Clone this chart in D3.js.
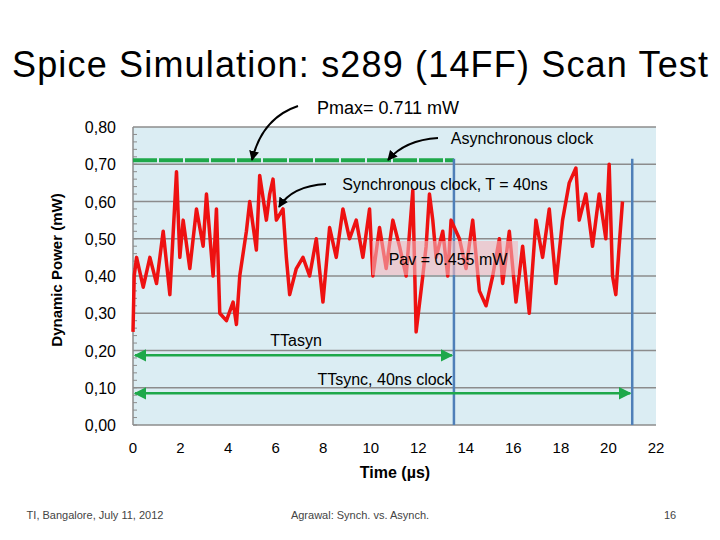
<!DOCTYPE html>
<html><head><meta charset="utf-8">
<script src="https://cdn.jsdelivr.net/npm/d3@7"></script>
<style>body{margin:0;background:#fff}text{font-family:"Liberation Sans",Arial,sans-serif}</style>
</head><body><div id="chart"></div>
<script>
// red trace: time (µs) / power (mW)
var times = [0,0.05,0.15,0.43,0.71,0.99,1.27,1.55,1.83,1.97,2.11,2.39,2.67,2.95,3.09,3.37,3.51,3.65,3.93,4.21,4.35,4.49,4.77,4.91,5.19,5.33,5.61,5.75,5.89,6.03,6.31,6.45,6.59,6.87,7.15,7.43,7.71,7.99,8.27,8.55,8.83,9.11,9.39,9.67,9.95,10.09,10.37,10.65,10.93,11.21,11.49,11.77,11.91,12.19,12.33,12.47,12.61,12.75,13.03,13.24,13.38,13.73,14.01,14.29,14.57,14.85,15.13,15.41,15.55,15.83,16.11,16.39,16.67,16.95,17.23,17.51,17.79,18.07,18.35,18.63,18.77,19.05,19.33,19.61,19.89,20.03,20.17,20.31,20.45,20.59];
var power = [0.25,0.40,0.45,0.37,0.45,0.38,0.52,0.35,0.68,0.45,0.55,0.42,0.58,0.48,0.62,0.40,0.58,0.30,0.28,0.33,0.27,0.40,0.52,0.60,0.47,0.67,0.55,0.62,0.66,0.55,0.58,0.45,0.35,0.42,0.45,0.40,0.50,0.33,0.53,0.45,0.58,0.50,0.55,0.45,0.58,0.40,0.53,0.42,0.55,0.48,0.40,0.63,0.25,0.40,0.48,0.62,0.55,0.45,0.52,0.40,0.55,0.50,0.42,0.55,0.36,0.32,0.40,0.50,0.38,0.52,0.33,0.48,0.30,0.55,0.45,0.58,0.38,0.55,0.65,0.69,0.55,0.62,0.48,0.62,0.50,0.70,0.40,0.35,0.48,0.60];
var yTicks = [0,0.1,0.2,0.3,0.4,0.5,0.6,0.7,0.8];
var xTicks = [0,2,4,6,8,10,12,14,16,18,20,22];
var pmax = 0.711, tAsyn = 13.5, tSync = 21.0;

var W = 720, H = 540;
var x = d3.scaleLinear().domain([0,22]).range([133,656]);
var y = d3.scaleLinear().domain([0,0.8]).range([425,127]);

var svg = d3.select("#chart").append("svg").attr("width",W).attr("height",H);
var defs = svg.append("defs");
function marker(id, col) {
    defs.append("marker").attr("id",id).attr("viewBox","0 0 10 10").attr("refX",9).attr("refY",5)
        .attr("markerWidth",5).attr("markerHeight",5).attr("orient","auto-start-reverse")
        .append("path").attr("d","M0,0L10,5L0,10z").attr("fill",col);
}
marker("ag","#1ea84a"); marker("ab","#000");

svg.append("text").attr("x",360).attr("y",77).attr("text-anchor","middle")
    .attr("font-size",36).attr("textLength",696).attr("font-family","Open Sans")
    .text("Spice Simulation: s289 (14FF) Scan Test");

svg.append("rect").attr("x",x(0)).attr("y",y(0.8)).attr("width",x(22)-x(0)).attr("height",y(0)-y(0.8)).attr("fill","#dbedf3");

svg.selectAll(".grid").data(yTicks.slice(1)).enter().append("line")
    .attr("x1",x(0)).attr("x2",x(22)).attr("y1",d=>y(d)).attr("y2",d=>y(d))
    .attr("stroke","#8c8c8c").attr("stroke-width",1.5);
svg.append("line").attr("x1",x(0)).attr("x2",x(0)).attr("y1",y(0.8)).attr("y2",y(0)).attr("stroke","#8c8c8c").attr("stroke-width",1.5);
svg.append("line").attr("x1",x(0)).attr("x2",x(22)).attr("y1",y(0)).attr("y2",y(0)).attr("stroke","#8c8c8c").attr("stroke-width",1.5);
svg.selectAll(".mt").data(d3.range(0,0.8,0.02)).enter().append("line")
    .attr("x1",x(0)).attr("x2",x(0)+4).attr("y1",d=>y(d)).attr("y2",d=>y(d)).attr("stroke","#8c8c8c");

svg.selectAll(".yl").data(yTicks).enter().append("text")
    .attr("x",116).attr("y",d=>y(d)+6).attr("text-anchor","end").attr("font-size",16)
    .text(d=>d.toFixed(2).replace(".",","));
svg.selectAll(".xl").data(xTicks).enter().append("text")
    .attr("x",d=>x(d)).attr("y",453).attr("text-anchor","middle").attr("font-size",15).text(d=>d);
svg.append("text").attr("x",395).attr("y",478).attr("text-anchor","middle").attr("font-size",16).attr("font-weight","bold").text("Time (µs)");
svg.append("text").attr("transform","translate(62,270) rotate(-90)").attr("text-anchor","middle").attr("font-size",15).attr("font-weight","bold").text("Dynamic Power (mW)");

// asynchronous constant and period markers
svg.append("line").attr("x1",x(0)).attr("x2",x(tAsyn)).attr("y1",y(pmax)).attr("y2",y(pmax))
    .attr("stroke","#1ea84a").attr("stroke-width",4).attr("stroke-dasharray","24,2");
[tAsyn,tSync].forEach(function(t){
    svg.append("line").attr("x1",x(t)).attr("x2",x(t)).attr("y1",y(0.715)).attr("y2",y(0))
        .attr("stroke","#4f7fb8").attr("stroke-width",2.5);
});

var line = d3.line().x((d,i)=>x(times[i])).y(d=>y(d));
svg.append("path").datum(power).attr("d",line).attr("fill","none").attr("stroke","#ee1111").attr("stroke-width",3.5).attr("stroke-linejoin","round");

// annotations
svg.append("rect").attr("x",372).attr("y",241).attr("width",146).attr("height",34).attr("fill","#f4b6bd").attr("opacity",0.6);
svg.append("text").attr("x",448).attr("y",265).attr("text-anchor","middle").attr("font-size",16).text("Pav = 0.455 mW");
svg.append("text").attr("x",388).attr("y",114).attr("text-anchor","middle").attr("font-size",18).text("Pmax= 0.711 mW");
svg.append("text").attr("x",522).attr("y",144).attr("text-anchor","middle").attr("font-size",16).text("Asynchronous  clock");
svg.append("text").attr("x",445).attr("y",190).attr("text-anchor","middle").attr("font-size",16).text("Synchronous clock, T = 40ns");
[["M298,106 Q262,118 252,160"],["M438,138 Q405,140 388,160"],["M326,184 Q292,186 279,207"]].forEach(function(p){
    svg.append("path").attr("d",p[0]).attr("fill","none").attr("stroke","#000").attr("stroke-width",2).attr("marker-end","url(#ab)");
});
svg.append("text").attr("x",296).attr("y",346).attr("text-anchor","middle").attr("font-size",16).text("TTasyn");
svg.append("text").attr("x",385).attr("y",385).attr("text-anchor","middle").attr("font-size",16).text("TTsync, 40ns clock");
[[tAsyn,0.187],[tSync,0.085]].forEach(function(a){
    svg.append("line").attr("x1",x(0)+2).attr("x2",x(a[0])-2).attr("y1",y(a[1])).attr("y2",y(a[1]))
        .attr("stroke","#1ea84a").attr("stroke-width",2.5).attr("marker-start","url(#ag)").attr("marker-end","url(#ag)");
});

svg.append("text").attr("x",95).attr("y",519).attr("text-anchor","middle").attr("font-size",11).attr("fill","#444").text("TI, Bangalore, July 11, 2012");
svg.append("text").attr("x",360).attr("y",519).attr("text-anchor","middle").attr("font-size",11).attr("fill","#444").text("Agrawal: Synch. vs. Asynch.");
svg.append("text").attr("x",670).attr("y",519).attr("text-anchor","middle").attr("font-size",11).attr("fill","#444").text("16");
</script></body></html>
